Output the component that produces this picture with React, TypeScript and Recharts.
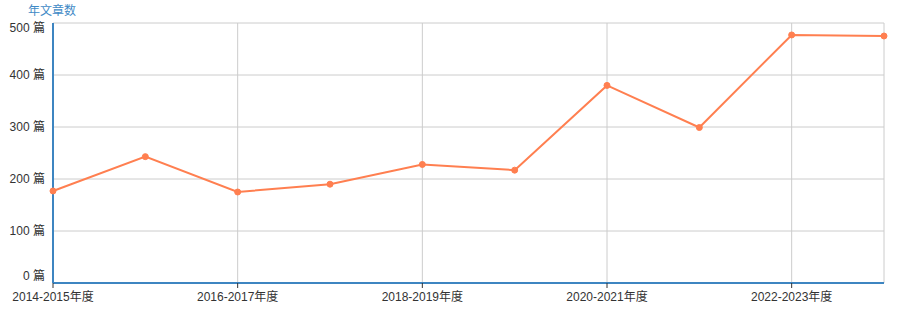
import React from "react";
import {
  LineChart,
  Line,
  XAxis,
  YAxis,
  CartesianGrid,
  ReferenceLine,
} from "recharts";

const years = [
  "2014-2015年度",
  "2015-2016年度",
  "2016-2017年度",
  "2017-2018年度",
  "2018-2019年度",
  "2019-2020年度",
  "2020-2021年度",
  "2021-2022年度",
  "2022-2023年度",
  "2023-2024年度",
];
const articles = [177, 243, 175, 190, 228, 217, 380, 299, 477, 475];
const yTicks = [0, 100, 200, 300, 400, 500];
const unit = "篇";
const title = "年文章数";

const gridLines = [years[2], years[4], years[6], years[8], years[9]];

const data = years.map((label, i) => ({ label, value: articles[i] }));

const FONT = "'Liberation Sans', Arial, 'Noto Sans CJK SC', sans-serif";
const AXIS_BLUE = "#3d85c1";
const LINE = "#ff7f50";

function YTick(props: any) {
  const { x, y, payload } = props;
  // first and last labels are kept inside the plot area
  let dy = 4;
  if (payload.value === 0) dy = -3;
  if (payload.value === 500) dy = 9;
  return (
    <text x={x} y={y + dy} textAnchor="end" fill="#333" fontSize={12} fontFamily={FONT}>
      {payload.value} {unit}
    </text>
  );
}

export default function App() {
  return (
    <div style={{ position: "absolute", left: 0, top: 0, width: 908, height: 324 }}>
      <div
        style={{
          position: "absolute",
          left: 28,
          top: 3,
          fontSize: 12,
          color: "#3f8ac6",
          fontFamily: FONT,
          lineHeight: "16px",
        }}
      >
        {title}
      </div>
      <LineChart
        width={908}
        height={324}
        data={data}
        margin={{ top: 23, right: 24, left: 0, bottom: 0 }}
      >
        <CartesianGrid vertical={false} stroke="#cccccc" strokeWidth={1} />
        {gridLines.map((g) => (
          <ReferenceLine key={g} x={g} stroke="#cccccc" strokeWidth={1} />
        ))}
        <XAxis
          dataKey="label"
          interval={1}
          padding={{ left: 0, right: 0 }}
          height={41}
          axisLine={{ stroke: AXIS_BLUE, strokeWidth: 2 }}
          tickLine={{ stroke: "#333" }}
          tickSize={5}
          tickMargin={4}
          tick={{ fontSize: 12, fill: "#333", fontFamily: FONT }}
        />
        <YAxis
          domain={[0, 500]}
          ticks={yTicks}
          width={53}
          axisLine={{ stroke: AXIS_BLUE, strokeWidth: 2 }}
          tickLine={false}
          tickSize={0}
          tickMargin={8}
          tick={<YTick />}
        />
        <Line
          type="linear"
          dataKey="value"
          stroke={LINE}
          strokeWidth={2}
          dot={{ r: 3, fill: LINE, stroke: LINE, strokeWidth: 1 }}
          activeDot={false}
          isAnimationActive={false}
        />
      </LineChart>
    </div>
  );
}
